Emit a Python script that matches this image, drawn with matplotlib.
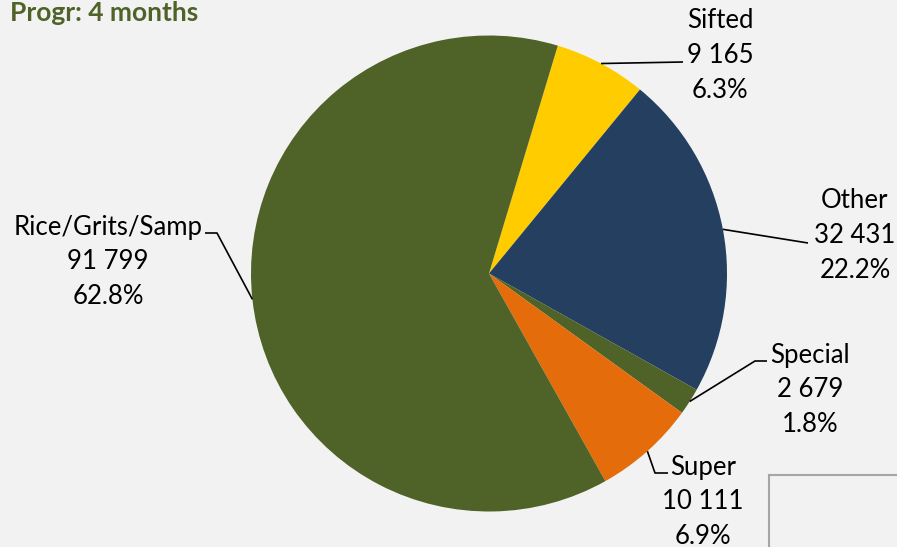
import numpy as np
import matplotlib

matplotlib.use("Agg")
import matplotlib.pyplot as plt
from matplotlib.patches import Rectangle

# data
labels = ["Sifted", "Other", "Special", "Super", "Rice/Grits/Samp"]
values = [9165, 32431, 2679, 10111, 91799]
value_text = ["9 165", "32 431", "2 679", "10 111", "91 799"]
pct_text = ["6.3%", "22.2%", "1.8%", "6.9%", "62.8%"]
colors = ["#FFCC00", "#243F60", "#4F6228", "#E46C0A", "#4F6228"]
title = "Progr: 4 months"

W, H = 897, 547
BG = "#F2F2F2"
FONT = "Lato"

# layout (pixel coords, y from top)
cx, cy, R = 489, 273.5, 238
start_from_top = 16.8  # degrees clockwise from 12 o'clock
label_pos = {
    "Sifted": (720, 21),
    "Other": (855, 201),
    "Special": (810, 355),
    "Super": (703, 467),
    "Rice/Grits/Samp": (108, 227),
}
elbows = {
    "Sifted": [(683, 62)],
    "Other": [(808, 243)],
    "Special": [(755, 361), (767, 361)],
    "Super": [(655, 473), (668, 473)],
    "Rice/Grits/Samp": [(217, 233), (205, 233)],
}
line_gap = 34.5


def Y(y):
    return H - y


fig = plt.figure(figsize=(W / 100, H / 100), dpi=100, facecolor=BG)
ax = fig.add_axes([0, 0, 1, 1])

ax.pie(values, colors=colors, startangle=90 - start_from_top, counterclock=False,
       center=(cx, Y(cy)), radius=R, frame=True,
       wedgeprops=dict(linewidth=0))
ax.set_xlim(0, W)
ax.set_ylim(0, H)
ax.set_aspect("equal")
ax.axis("off")

total = sum(values)
acc = start_from_top
for lab, v, vt, pt in zip(labels, values, value_text, pct_text):
    span = v / total * 360
    mid = np.radians(acc + span / 2)
    acc += span
    ax_x = cx + R * np.sin(mid)
    ax_y = cy - R * np.cos(mid)
    pts = [(ax_x, ax_y)] + elbows[lab]
    ax.plot([p[0] for p in pts], [Y(p[1]) for p in pts], color="black", lw=1.2,
            solid_capstyle="butt")
    tx, ty = label_pos[lab]
    for i, s in enumerate([lab, vt, pt]):
        ax.text(tx, Y(ty + i * line_gap), s, ha="center", va="center",
                fontsize=18.5, family=FONT, color="black")

ax.text(10, Y(1), title, ha="left", va="top", fontsize=19, family=FONT,
        fontweight="bold", color="#4F6228")

ax.add_patch(Rectangle((769, Y(560)), 200, 85, facecolor=BG, edgecolor="#A6A6A6",
                       lw=1.5, clip_on=True))

fig.savefig("out.png", dpi=100, facecolor=BG)
